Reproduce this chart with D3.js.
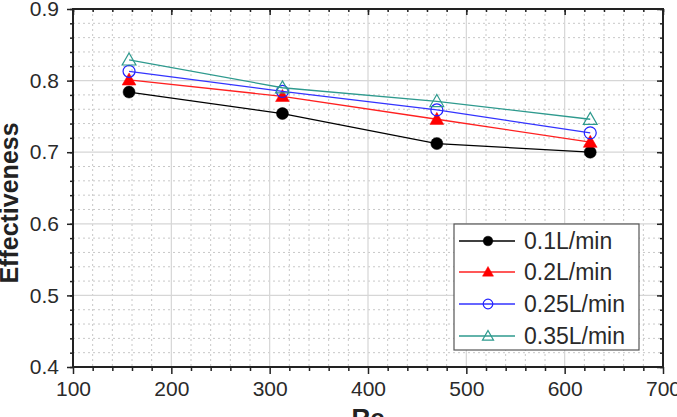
<!DOCTYPE html>
<html><head><meta charset="utf-8">
<script src="https://cdn.jsdelivr.net/npm/d3@7"></script>
<style>
html,body{margin:0;padding:0;background:#fff;}
svg{display:block;font-family:"Liberation Sans",Arial,sans-serif;}
</style></head>
<body>
<svg id="chart" width="677" height="417"></svg>
<script>
const reValues = [157, 313, 470, 626];
const seriesNames = ["0.1L/min", "0.2L/min", "0.25L/min", "0.35L/min"];
const eff01 = [0.784, 0.754, 0.712, 0.700];
const eff02 = [0.801, 0.778, 0.746, 0.714];
const eff025 = [0.813, 0.785, 0.759, 0.727];
const eff035 = [0.829, 0.790, 0.771, 0.746];
const xTicks = [100, 200, 300, 400, 500, 600, 700];
const yTicks = [0.4, 0.5, 0.6, 0.7, 0.8, 0.9];

const seriesStyle = [
  {line:"#000000", fill:"#000000", stroke:"#000000", shape:"circle", filled:true},
  {line:"#ff2020", fill:"#ff0000", stroke:"#ff0000", shape:"triangle", filled:true},
  {line:"#3333ff", fill:"none", stroke:"#2222ff", shape:"circle", filled:false},
  {line:"#2e9a8e", fill:"none", stroke:"#2e9a8e", shape:"triangle", filled:false}
];
const seriesData = [eff01, eff02, eff025, eff035];

const L = 73, R = 663, T = 9, B = 367;
const svg = d3.select("#chart");
const x = d3.scaleLinear().domain([100, 700]).range([L, R]);
const y = d3.scaleLinear().domain([0.4, 0.9]).range([B, T]);

const minorX = d3.range(100, 700.1, 20);
const minorY = d3.range(0.4, 0.9001, 0.02).map(v => +v.toFixed(2));

// grid
const grid = svg.append("g");
grid.selectAll(".mx").data(minorX.filter(v => v % 100 !== 0)).enter().append("line")
  .attr("x1", d => x(d)).attr("x2", d => x(d)).attr("y1", T).attr("y2", B)
  .attr("stroke", "#c8c8c8").attr("stroke-width", 1).attr("stroke-dasharray", "2,3");
grid.selectAll(".my").data(minorY.filter(v => Math.abs(v*10 - Math.round(v*10)) > 1e-6)).enter().append("line")
  .attr("x1", L).attr("x2", R).attr("y1", d => y(d)).attr("y2", d => y(d))
  .attr("stroke", "#c8c8c8").attr("stroke-width", 1).attr("stroke-dasharray", "2,3");
grid.selectAll(".Mx").data(xTicks.slice(1, -1)).enter().append("line")
  .attr("x1", d => x(d)).attr("x2", d => x(d)).attr("y1", T).attr("y2", B)
  .attr("stroke", "#d6d6d6").attr("stroke-width", 1.2);
grid.selectAll(".My").data(yTicks.slice(1, -1)).enter().append("line")
  .attr("x1", L).attr("x2", R).attr("y1", d => y(d)).attr("y2", d => y(d))
  .attr("stroke", "#d6d6d6").attr("stroke-width", 1.2);

// axes
const axisColor = "#222";
function styleAxis(g){
  g.select(".domain").remove();
  g.selectAll("line").attr("stroke", axisColor).attr("stroke-width", 1.5);
  g.selectAll("text").attr("fill", "#2a2a2a").style("font-size", "21px")
    .style("font-family", '"Liberation Sans", Arial, sans-serif');
}
const xAxis = svg.append("g").attr("transform", `translate(0,${B})`)
  .call(d3.axisBottom(x).tickValues(xTicks).tickSize(7).tickPadding(7).tickFormat(d3.format("d")));
styleAxis(xAxis);
svg.append("g").attr("transform", `translate(0,${B})`)
  .call(d3.axisBottom(x).tickValues(minorX.filter(v => v % 100 !== 0)).tickSize(4).tickFormat(""))
  .call(styleAxis);
const yAxis = svg.append("g").attr("transform", `translate(${L},0)`)
  .call(d3.axisLeft(y).tickValues(yTicks).tickSize(6).tickPadding(8).tickFormat(d3.format(".1f")));
styleAxis(yAxis);
svg.append("g").attr("transform", `translate(${L},0)`)
  .call(d3.axisLeft(y).tickValues(minorY).tickSize(3).tickFormat(""))
  .call(styleAxis);
// top & right (inward ticks)
svg.append("g").attr("transform", `translate(0,${T})`)
  .call(d3.axisTop(x).tickValues(xTicks).tickSize(-6).tickFormat("")).call(styleAxis);
svg.append("g").attr("transform", `translate(0,${T})`)
  .call(d3.axisTop(x).tickValues(minorX).tickSize(-3).tickFormat("")).call(styleAxis);
svg.append("g").attr("transform", `translate(${R},0)`)
  .call(d3.axisRight(y).tickValues(yTicks).tickSize(-6).tickFormat("")).call(styleAxis);
svg.append("g").attr("transform", `translate(${R},0)`)
  .call(d3.axisRight(y).tickValues(minorY).tickSize(-3).tickFormat("")).call(styleAxis);

// frame
svg.append("rect").attr("x", L).attr("y", T).attr("width", R - L).attr("height", B - T)
  .attr("fill", "none").attr("stroke", axisColor).attr("stroke-width", 2);

// series
const line = d3.line().x((d, i) => x(reValues[i])).y(d => y(d));
function marker(g, st, cx, cy, size){
  if (st.shape === "circle") {
    g.append("circle").attr("cx", cx).attr("cy", cy).attr("r", size)
      .attr("fill", st.filled ? st.fill : "#fff").attr("fill-opacity", st.filled ? 1 : 0)
      .attr("stroke", st.stroke).attr("stroke-width", st.filled ? 0.5 : 1.2);
  } else {
    const s = size * 1.15;
    const pts = [[cx, cy - s], [cx + s, cy + s * 0.75], [cx - s, cy + s * 0.75]];
    g.append("polygon").attr("points", pts.map(p => p.join(",")).join(" "))
      .attr("fill", st.filled ? st.fill : "none")
      .attr("stroke", st.stroke).attr("stroke-width", st.filled ? 0.5 : 1.2);
  }
}
seriesData.forEach((vals, si) => {
  const st = seriesStyle[si];
  const g = svg.append("g");
  g.append("path").datum(vals).attr("d", line).attr("fill", "none")
    .attr("stroke", st.line).attr("stroke-width", 1.3);
  vals.forEach((v, i) => marker(g, st, x(reValues[i]), y(v), 6));
});

// legend
const lg = svg.append("g");
lg.append("rect").attr("x", 454).attr("y", 224).attr("width", 185).attr("height", 126)
  .attr("fill", "#fff").attr("stroke", "#555").attr("stroke-width", 1.2);
const legendY = [241, 272, 304, 336];
seriesNames.forEach((name, i) => {
  const st = seriesStyle[i];
  const yy = legendY[i];
  lg.append("line").attr("x1", 459).attr("x2", 515).attr("y1", yy).attr("y2", yy)
    .attr("stroke", st.line).attr("stroke-width", 1.3);
  marker(lg, st, 488, yy, 4.8);
  lg.append("text").attr("x", 524).attr("y", yy).attr("dy", "0.36em")
    .attr("fill", "#2a2a2a").style("font-size", "23px").text(name);
});

// axis titles
svg.append("text").attr("transform", `translate(18,${203}) rotate(-90)`)
  .attr("text-anchor", "middle").style("font-size", "25px").style("font-weight", "bold")
  .attr("fill", "#222").text("Effectiveness");
svg.append("text").attr("x", 368).attr("y", 427).attr("text-anchor", "middle")
  .style("font-size", "26px").style("font-weight", "bold").attr("fill", "#222").text("Re");
</script>
</body></html>
